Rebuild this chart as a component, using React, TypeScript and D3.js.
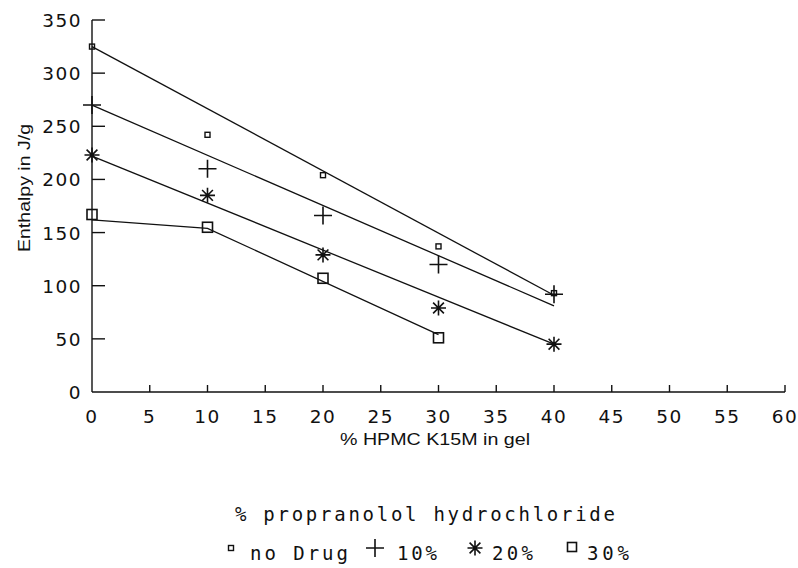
import React from "react";
import * as d3 from "d3";

// ---- data ----
const xValues = [0, 10, 20, 30, 40];
const noDrug = [325, 242, 204, 137, 93];
const drug10 = [270, 210, 166, 120, 92];
const drug20 = [223, 185, 129, 79, 45];
const drug30 = [167, 155, 107, 51];

// fitted lines (x, y) values
const fitNoDrugX = [0, 40];
const fitNoDrugY = [325, 91];
const fit10X = [0, 40];
const fit10Y = [270, 81];
const fit20X = [0, 40];
const fit20Y = [222, 45];
const fit30X = [0, 10, 30];
const fit30Y = [162, 154, 54];

const xTicks = [0, 5, 10, 15, 20, 25, 30, 35, 40, 45, 50, 55, 60];
const yTicks = [0, 50, 100, 150, 200, 250, 300, 350];

const legendTitle = "% propranolol hydrochloride";
const legendLabels = ["no Drug", "10%", "20%", "30%"];

const W = 798;
const H = 568;

const x = d3.scaleLinear().domain([0, 60]).range([92, 785]);
const y = d3.scaleLinear().domain([0, 350]).range([392, 20]);

const line = d3
  .line<[number, number]>()
  .x((d) => x(d[0]))
  .y((d) => y(d[1]));

const zip = (a: number[], b: number[]): [number, number][] =>
  a.map((v, i) => [v, b[i]] as [number, number]);

const ink = "#111";

function SmallSquare({ cx, cy }: { cx: number; cy: number }) {
  return (
    <rect x={cx - 2.5} y={cy - 2.5} width={5} height={5} fill="none" stroke={ink} strokeWidth={1.4} />
  );
}
function Plus({ cx, cy, r = 9 }: { cx: number; cy: number; r?: number }) {
  return (
    <path d={`M${cx - r},${cy}H${cx + r}M${cx},${cy - r}V${cy + r}`} stroke={ink} strokeWidth={1.6} fill="none" />
  );
}
function Star({ cx, cy, r = 7.5 }: { cx: number; cy: number; r?: number }) {
  const d = r * 0.72;
  return (
    <path
      d={`M${cx - r},${cy}H${cx + r}M${cx},${cy - r}V${cy + r}M${cx - d},${cy - d}L${cx + d},${cy + d}M${cx - d},${cy + d}L${cx + d},${cy - d}`}
      stroke={ink}
      strokeWidth={1.6}
      fill="none"
    />
  );
}
function BigSquare({ cx, cy, s = 10 }: { cx: number; cy: number; s?: number }) {
  return (
    <rect x={cx - s / 2} y={cy - s / 2} width={s} height={s} fill="none" stroke={ink} strokeWidth={1.6} />
  );
}

export default function App() {
  const tickFont = "'DejaVu Sans', sans-serif";
  const monoFont = "'DejaVu Sans Mono', monospace";
  return (
    <svg width={W} height={H} style={{ position: "absolute", left: 0, top: 0, background: "#fff" }}>
      <rect width={W} height={H} fill="#fff" />
      {/* axes */}
      <line x1={x(0)} x2={x(0)} y1={y(350)} y2={y(0)} stroke={ink} strokeWidth={1.4} />
      <line x1={x(0)} x2={x(60)} y1={y(0)} y2={y(0)} stroke={ink} strokeWidth={1.4} />
      {yTicks.map((t) => (
        <g key={"yt" + t}>
          {t > 0 && <line x1={x(0)} x2={x(0) + 13} y1={y(t)} y2={y(t)} stroke={ink} strokeWidth={1.4} />}
          <text
            x={x(0) - 10}
            y={y(t) + 7}
            textAnchor="end"
            fontFamily={tickFont}
            fontSize={18.5}
            letterSpacing={1.5}
            fill={ink}
          >
            {t}
          </text>
        </g>
      ))}
      {xTicks.map((t) => (
        <g key={"xt" + t}>
          {t > 0 && <line x1={x(t)} x2={x(t)} y1={y(0)} y2={y(0) - 7} stroke={ink} strokeWidth={1.4} />}
          <text
            x={x(t)}
            y={y(0) + 31}
            textAnchor="middle"
            fontFamily={tickFont}
            fontSize={18.5}
            letterSpacing={1.5}
            fill={ink}
          >
            {t}
          </text>
        </g>
      ))}
      {/* axis titles */}
      <text
        x={435}
        y={445}
        textAnchor="middle"
        fontFamily="'Liberation Sans', Arial, sans-serif"
        fontSize={16}
        fill={ink}
        textLength={190}
        lengthAdjust="spacingAndGlyphs"
      >
        % HPMC K15M in gel
      </text>
      <text
        transform={`translate(30,188) rotate(-90)`}
        textAnchor="middle"
        fontFamily="'Liberation Sans', Arial, sans-serif"
        fontSize={16}
        fill={ink}
        textLength={128}
        lengthAdjust="spacingAndGlyphs"
      >
        Enthalpy in J/g
      </text>

      {/* fit lines */}
      {[
        zip(fitNoDrugX, fitNoDrugY),
        zip(fit10X, fit10Y),
        zip(fit20X, fit20Y),
        zip(fit30X, fit30Y),
      ].map((pts, i) => (
        <path key={"l" + i} d={line(pts) || ""} fill="none" stroke={ink} strokeWidth={1.3} />
      ))}

      {/* markers */}
      {noDrug.map((v, i) => (
        <SmallSquare key={"a" + i} cx={x(xValues[i])} cy={y(v)} />
      ))}
      {drug10.map((v, i) => (
        <Plus key={"b" + i} cx={x(xValues[i])} cy={y(v)} />
      ))}
      {drug20.map((v, i) => (
        <Star key={"c" + i} cx={x(xValues[i])} cy={y(v)} />
      ))}
      {drug30.map((v, i) => (
        <BigSquare key={"d" + i} cx={x(xValues[i])} cy={y(v)} />
      ))}

      {/* legend */}
      <text
        x={235}
        y={521}
        fontFamily={monoFont}
        fontSize={19}
        fill={ink}
        textLength={380}
        lengthAdjust="spacing"
      >
        {legendTitle}
      </text>
      <SmallSquare cx={231} cy={548} />
      <text x={250} y={560} fontFamily={monoFont} fontSize={19} fill={ink} textLength={98} lengthAdjust="spacing">
        {legendLabels[0]}
      </text>
      <Plus cx={375} cy={548} r={9} />
      <text x={397} y={560} fontFamily={monoFont} fontSize={19} fill={ink} textLength={40} lengthAdjust="spacing">
        {legendLabels[1]}
      </text>
      <Star cx={475} cy={548} r={7.5} />
      <text x={492} y={560} fontFamily={monoFont} fontSize={19} fill={ink} textLength={41} lengthAdjust="spacing">
        {legendLabels[2]}
      </text>
      <BigSquare cx={572} cy={547} s={9} />
      <text x={587} y={560} fontFamily={monoFont} fontSize={19} fill={ink} textLength={42} lengthAdjust="spacing">
        {legendLabels[3]}
      </text>
    </svg>
  );
}
